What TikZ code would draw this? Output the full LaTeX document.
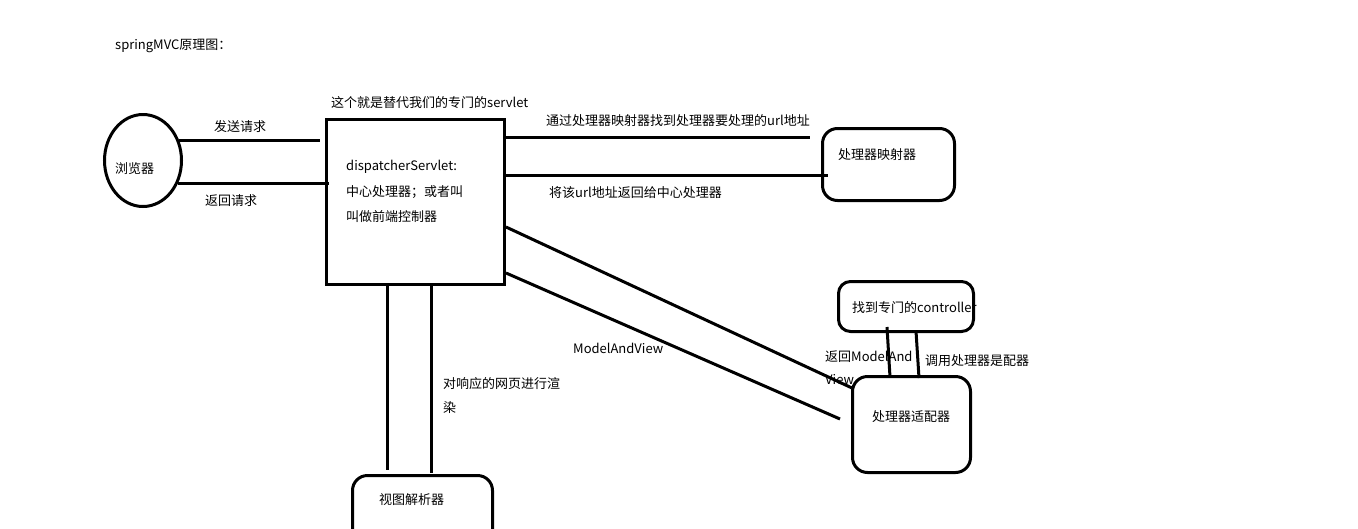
\documentclass[tikz,border=0pt]{standalone}
\usepackage{fontspec}
\setmainfont{Noto Sans CJK SC}
\usetikzlibrary{shapes.geometric,calc}
\begin{document}
\begin{tikzpicture}[x=1pt,y=-1pt,
  every node/.style={font=\fontsize{13}{16}\selectfont, inner sep=0pt},
  lbl/.style={anchor=west},
  conn/.style={line width=3pt},
  sbox/.style={draw, line width=3pt, minimum width=#1},
  rbox/.style={draw, line width=3pt, rounded corners=15pt}
]
\useasboundingbox (0,0) rectangle (1358,528);
\fill[white] (0,0) rectangle (1358,528);
\clip (0,0) rectangle (1358,528);

% title
\node[lbl] (title) at (115,46) {springMVC原理图：};

% browser
\node[draw, ellipse, line width=3pt, minimum width=77pt, minimum height=92pt] (browser) at (143,160.5) {};
\node[lbl] (browsertxt) at (115,169) {浏览器};

% dispatcher servlet
\node[draw, line width=3pt, minimum width=178pt, minimum height=165pt] (ds) at (415.5,202) {};
\node[lbl] (dsnote) at (331,103) {这个就是替代我们的专门的servlet};
\node[lbl] (ds1) at (346,167) {dispatcherServlet:};
\node[lbl] (ds2) at (346,192) {中心处理器；或者叫};
\node[lbl] (ds3) at (346,217) {叫做前端控制器};

% handler mapping
\node[rbox, minimum width=132pt, minimum height=72pt] (mapper) at (888.5,164.5) {};
\node[lbl] (mappertxt) at (838,155) {处理器映射器};

% controller
\node[rbox, rounded corners=12pt, minimum width=135pt, minimum height=50pt] (ctrl) at (906,306.5) {};
\node[lbl] (ctrltxt) at (852,308) {找到专门的controller};

% adapter
\node[rbox, minimum width=118pt, minimum height=96pt] (adapter) at (911.5,424.5) {};
\node[lbl] (adaptertxt) at (872,417) {处理器适配器};

% view resolver
\node[rbox, minimum width=140pt, minimum height=80pt] (view) at (422.5,515.5) {};
\node[lbl] (viewtxt) at (379,500) {视图解析器};

% connectors browser <-> ds
\draw[conn] (browser.29) coordinate (b1) -- ([xshift=-5pt]b1 -| ds.west);
\draw[conn] (browser.-33) coordinate (b2) -- ([xshift=4pt]b2 -| ds.west);
\node[lbl] (sendlbl) at (214,127) {发送请求};
\node[lbl] (retlbl) at (205,201) {返回请求};

% ds <-> mapper
\coordinate (m1) at (810,137);
\coordinate (m2) at (828,175);
\draw[conn] (m1 -| ds.east) -- (m1);
\draw[conn] (m2 -| ds.east) -- (m2);
\node[lbl] (m1lbl) at (546,121) {通过处理器映射器找到处理器要处理的url地址};
\node[lbl] (m2lbl) at (549,193) {将该url地址返回给中心处理器};

% ds <-> adapter
\coordinate (a1) at (852,388);
\coordinate (a2) at (840,419);
\draw[conn] (ds.east |- 0,227) -- (a1);
\draw[conn] (ds.east |- 0,273) -- (a2);
\node[lbl] (mavlbl) at (573,348) {ModelAndView};

% ctrl <-> adapter
\draw[conn] ($(ctrl.south)+(-19,-6)$) -- ($(adapter.north)+(-21.5,2)$);
\draw[conn] ($(ctrl.south)+(10,-2)$) -- ($(adapter.north)+(7.5,3)$);
\node[lbl] (retmav1) at (825,357) {返回ModelAnd};
\node[lbl] (retmav2) at (825,380) {View};
\node[lbl] (calllbl) at (925,361) {调用处理器是配器};

% ds <-> view
\coordinate (v1) at (387,470);
\coordinate (v2) at (431,473);
\draw[conn] (v1 |- ds.south) -- (v1);
\draw[conn] (v2 |- ds.south) -- (v2);
\node[lbl] (rend1) at (443,384) {对响应的网页进行渲};
\node[lbl] (rend2) at (443,408) {染};
\end{tikzpicture}
\end{document}
